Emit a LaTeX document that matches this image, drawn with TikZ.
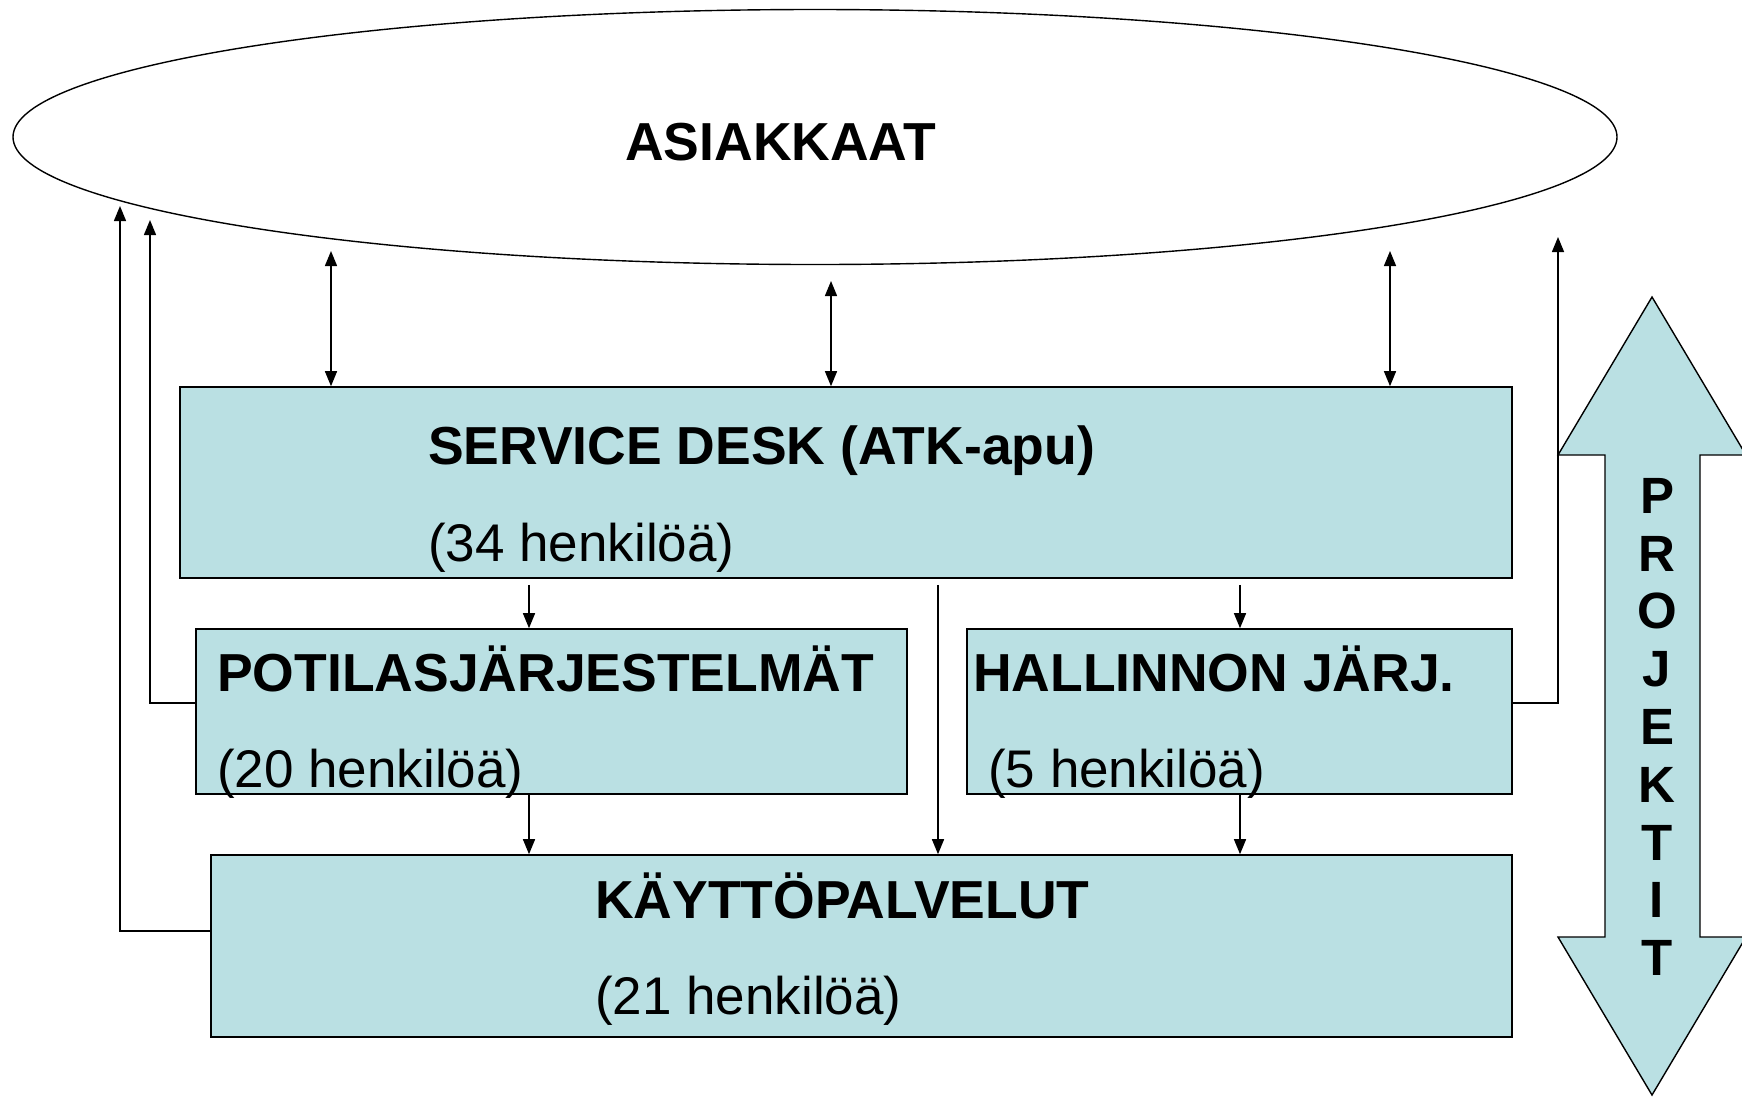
\documentclass[tikz,border=0pt]{standalone}
\usepackage{fontspec}
\setmainfont{Liberation Sans}
\usetikzlibrary{shapes.geometric,arrows.meta}
\definecolor{boxblue}{RGB}{186,224,227}
\tikzset{
  unit/.style={draw, fill=boxblue, line width=1.6pt, inner sep=0pt},
  head/.style={anchor=base west, inner sep=0pt, font=\bfseries\fontsize{53.5}{60}\selectfont},
  count/.style={anchor=base west, inner sep=0pt, font=\fontsize{53}{60}\selectfont},
  link/.style={line width=1.4pt, -{Triangle[length=15pt,width=12pt]}},
  both/.style={line width=1.4pt, {Triangle[length=15pt,width=12pt]}-{Triangle[length=15pt,width=12pt]}},
}
\begin{document}
\begin{tikzpicture}[x=1pt,y=-1pt]
\useasboundingbox (0,0) rectangle (1742,1096);

% customers
\node[name=cust,ellipse,draw,line width=1.4pt,minimum width=1604,minimum height=255,inner sep=0pt] at (815,137) {};
\node[head] at (625,160) {ASIAKKAAT};

% units
\node[name=sd,unit,minimum width=1332,minimum height=191] at (846,482.5) {};
\node[name=pot,unit,minimum width=711,minimum height=165] at (551.5,711.5) {};
\node[name=hal,unit,minimum width=545,minimum height=165] at (1239.5,711.5) {};
\node[name=kay,unit,minimum width=1301,minimum height=182] at (861.5,946) {};

\node[head] at (428,464) {SERVICE DESK (ATK-apu)};
\node[count] at (428,561) {(34 henkilöä)};
\node[head] at (217,691) {POTILASJÄRJESTELMÄT};
\node[count] at (217,787) {(20 henkilöä)};
\node[head] at (973,691) {HALLINNON JÄRJ.};
\node[count] at (988,787) {(5 henkilöä)};
\node[head] at (595,918) {KÄYTTÖPALVELUT};
\node[count] at (595,1014) {(21 henkilöä)};

% projects
\draw[fill=boxblue,line width=1.4pt] (1652,297) -- (1746,455) -- (1700,455) -- (1700,937)
  -- (1746,937) -- (1652,1095) -- (1558,937) -- (1605,937) -- (1605,455) -- (1558,455) -- cycle;
\node[name=proj,align=center,inner sep=0pt,font=\bfseries\fontsize{51}{57.8}\selectfont] at (1657,727)
  {P\\R\\O\\J\\E\\K\\T\\I\\T};

% free ends
\coordinate (t1) at (331,251);
\coordinate (t2) at (831,281);
\coordinate (t3) at (1390,251);
\coordinate (xp) at (529,0);
\coordinate (xc) at (938,0);
\coordinate (xh) at (1240,0);
\coordinate (kl) at (120,206);
\coordinate (pl) at (150,220);
\coordinate (hr) at (1558,237);

\draw[both] (t1) -- (sd.north -| t1);
\draw[both] (t2) -- (sd.north -| t2);
\draw[both] (t3) -- (sd.north -| t3);

\draw[link] ([yshift=-6pt]sd.south -| xp) -- (pot.north -| xp);
\draw[link] ([yshift=-6pt]sd.south -| xh) -- (hal.north -| xh);
\draw[link] ([yshift=-6pt]sd.south -| xc) -- (kay.north -| xc);
\draw[link] (pot.south -| xp) -- (kay.north -| xp);
\draw[link] (hal.south -| xh) -- (kay.north -| xh);

\draw[link] ([yshift=15pt]kay.west) -| (kl);
\draw[link] ([yshift=8.5pt]pot.west) -| (pl);
\draw[link] ([yshift=8.5pt]hal.east) -| (hr);
\end{tikzpicture}
\end{document}
